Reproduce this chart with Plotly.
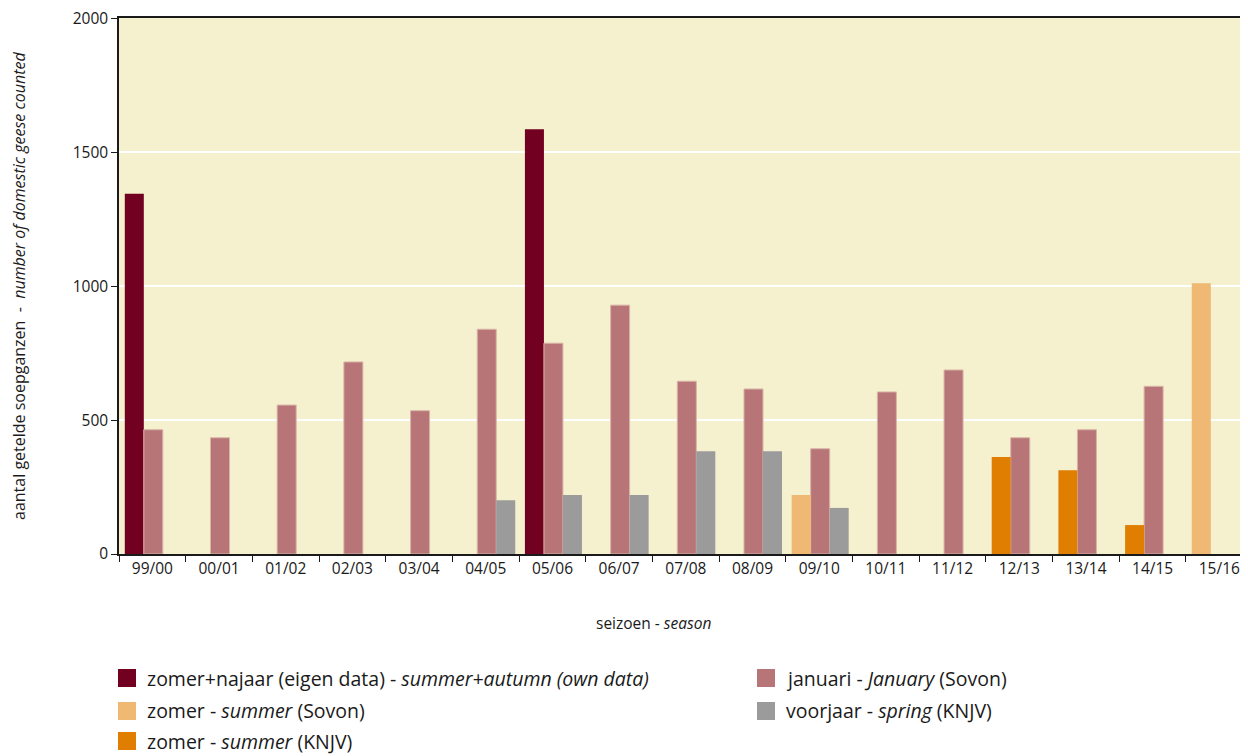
import plotly.graph_objects as go

seasons = ["99/00", "00/01", "01/02", "02/03", "03/04", "04/05", "05/06", "06/07",
           "07/08", "08/09", "09/10", "10/11", "11/12", "12/13", "13/14", "14/15", "15/16"]

summer_autumn_own = [1345, None, None, None, None, None, 1586, None, None, None,
                     None, None, None, None, None, None, None]
january_sovon = [464, 434, 556, 717, 535, 839, 787, 929, 645, 616,
                 393, 605, 687, 434, 464, 626, None]
summer_sovon = [None, None, None, None, None, None, None, None, None, None,
                220, None, None, None, None, None, 1011]
spring_knjv = [None, None, None, None, None, 201, 220, 220, 384, 384,
               172, None, None, None, None, None, None]
summer_knjv = [None, None, None, None, None, None, None, None, None, None,
               None, None, None, 362, 313, 108, None]
y_ticks = [0, 500, 1000, 1500, 2000]

names = [
    "zomer+najaar (eigen data) - <i>summer+autumn (own data)</i>",
    "januari - <i>January</i> (Sovon)",
    "zomer - <i>summer</i> (Sovon)",
    "voorjaar - <i>spring</i> (KNJV)",
    "zomer - <i>summer</i> (KNJV)",
]
C_DARK = "#720020"
C_PINK = "#B77578"
C_LORANGE = "#F0B973"
C_GREY = "#9B9B9B"
C_ORANGE = "#E07E02"
BG = "#F5F0CD"
FONT = "Open Sans"
TXT = "#1a1a1a"

W = 0.285
OFF1, OFF2, OFF3 = -0.413, -0.128, 0.157

fig = go.Figure()
fig.add_trace(go.Bar(x=seasons, y=summer_autumn_own, name=names[0], marker_color=C_DARK,
                     width=W, offset=OFF1, marker_line_width=0, showlegend=False))
fig.add_trace(go.Bar(x=seasons, y=january_sovon, name=names[1], marker_color=C_PINK,
                     width=W, offset=OFF2, marker_line=dict(color="#D9B5A8", width=1), showlegend=False))
fig.add_trace(go.Bar(x=seasons, y=summer_sovon, name=names[2], marker_color=C_LORANGE,
                     width=W, offset=OFF1, marker_line_width=0, showlegend=False))
fig.add_trace(go.Bar(x=seasons, y=spring_knjv, name=names[3], marker_color=C_GREY,
                     width=W, offset=OFF3, marker_line_width=0, showlegend=False))
fig.add_trace(go.Bar(x=seasons, y=summer_knjv, name=names[4], marker_color=C_ORANGE,
                     width=W, offset=OFF1, marker_line_width=0, showlegend=False))

# page coordinates (browser body has an 8px margin)
BODY = 8
PAGE_W, PAGE_H = 1248, 756
FIG_W, FIG_H = PAGE_W - BODY, PAGE_H - BODY
L_PAGE, T_PAGE, B_PAGE = 119, 18, 554
L = L_PAGE - BODY
T = T_PAGE - BODY
PW = FIG_W - L
PH = B_PAGE - T_PAGE

def px_x(x):
    return (x - L_PAGE) / PW

def px_y(y):
    return (B_PAGE - y) / PH

annotations = [
    dict(text="aantal getelde soepganzen  -  <i>number of domestic geese counted</i>",
         x=px_x(19), y=0.5, xref="paper", yref="paper", textangle=-90,
         showarrow=False, xanchor="center", yanchor="middle",
         font=dict(family=FONT, size=16, color=TXT)),
    dict(text="seizoen - <i>season</i>", x=px_x(653), y=px_y(623), xref="paper", yref="paper",
         showarrow=False, xanchor="center", yanchor="middle",
         font=dict(family=FONT, size=15.5, color=TXT)),
]
shapes = []
legend_items = [
    (names[0], C_DARK, 118, 678),
    (names[1], C_PINK, 757, 678),
    (names[2], C_LORANGE, 118, 711),
    (names[3], C_GREY, 757, 711),
    (names[4], C_ORANGE, 118, 741),
]
for text, col, lx, ly in legend_items:
    shapes.append(dict(type="rect", xref="paper", yref="paper",
                       x0=px_x(lx), x1=px_x(lx + 18), y0=px_y(ly + 9), y1=px_y(ly - 9),
                       fillcolor=col, line_width=0, layer="above"))
    annotations.append(dict(text=text, x=px_x(lx + 28), y=px_y(ly), xref="paper", yref="paper",
                            showarrow=False, xanchor="left", yanchor="middle", borderpad=0,
                            font=dict(family=FONT, size=19.5, color=TXT)))

fig.update_layout(
    width=FIG_W, height=FIG_H,
    margin=dict(l=L, r=0, t=T, b=FIG_H - (B_PAGE - BODY), pad=0),
    paper_bgcolor="white", plot_bgcolor=BG,
    barmode="overlay",
    showlegend=False,
    font=dict(family=FONT, size=15, color=TXT),
    annotations=annotations,
    shapes=shapes,
    xaxis=dict(type="category", range=[-0.5, 16.43], showgrid=False,
               showline=True, linecolor=TXT, linewidth=1.5, mirror=True,
               ticks="outside", tickson="boundaries", ticklen=6, tickcolor=TXT,
               tickfont=dict(family=FONT, size=15.5, color=TXT), fixedrange=True),
    yaxis=dict(range=[0, 2001], tickvals=y_ticks, ticktext=[str(v) for v in y_ticks],
               ticklabeloverflow="allow",
               showgrid=True, gridcolor="white", gridwidth=1.5,
               showline=True, linecolor=TXT, linewidth=1.5,
               ticks="outside", ticklen=6, tickcolor=TXT,
               tickfont=dict(family=FONT, size=15.5, color=TXT), zeroline=False),
)

fig.write_html("out.html")
